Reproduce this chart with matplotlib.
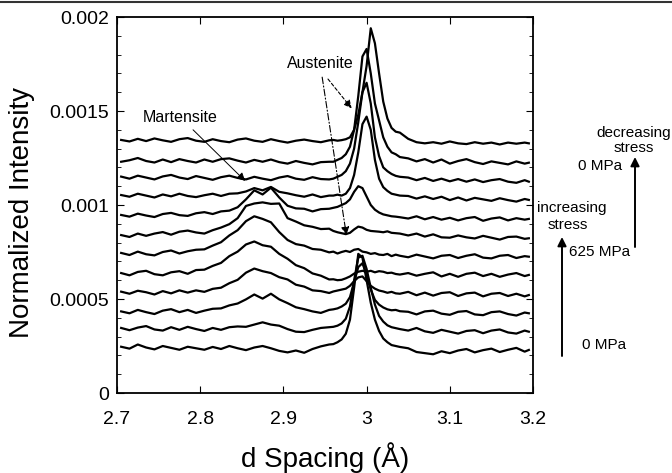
import matplotlib
matplotlib.use("Agg")
import matplotlib.pyplot as plt
import numpy as np
from matplotlib.lines import Line2D
from matplotlib.patches import FancyArrowPatch

plt.rcParams['font.family'] = ['Liberation Sans', 'DejaVu Sans']

# d spacing grid (Angstrom)
d_spacing = [2.705, 2.715, 2.725, 2.735, 2.745, 2.755, 2.765, 2.775, 2.785, 2.795,
             2.805, 2.815, 2.825, 2.835, 2.845, 2.855, 2.865, 2.875, 2.885, 2.895,
             2.905, 2.915, 2.925, 2.935, 2.945, 2.955,
             2.960, 2.965, 2.970, 2.975, 2.980, 2.985, 2.990, 2.995, 3.000, 3.005,
             3.010, 3.015, 3.020, 3.025, 3.030, 3.035, 3.040,
             3.050, 3.060, 3.070, 3.080, 3.090, 3.100, 3.110, 3.120, 3.130, 3.140,
             3.150, 3.160, 3.170, 3.180, 3.190, 3.195]

# Normalized intensity in units of 1e-4, bottom curve (s1) to top curve (s12)
s1 = [2.46, 2.36, 2.58, 2.42, 2.32, 2.50, 2.40, 2.30, 2.46, 2.38, 2.30, 2.45, 2.34, 2.50, 2.38, 2.28, 2.42, 2.50, 2.38, 2.24, 2.16, 2.26, 2.14, 2.34, 2.48, 2.58,
      2.60, 2.70, 2.85, 3.15, 3.90, 5.60, 7.40, 7.20, 6.00, 4.80, 3.90, 3.30, 2.90, 2.70, 2.55, 2.50, 2.45,
      2.38, 2.18, 2.12, 2.06, 2.22, 2.12, 2.26, 2.34, 2.16, 2.28, 2.36, 2.18, 2.30, 2.40, 2.20, 2.29]
s2 = [3.46, 3.34, 3.48, 3.56, 3.38, 3.32, 3.50, 3.36, 3.52, 3.40, 3.30, 3.46, 3.36, 3.50, 3.54, 3.52, 3.64, 3.76, 3.64, 3.58, 3.40, 3.26, 3.24, 3.36, 3.46, 3.50,
      3.52, 3.58, 3.70, 3.95, 4.60, 6.00, 7.20, 7.30, 6.60, 5.60, 4.70, 4.10, 3.80, 3.60, 3.50, 3.45, 3.40,
      3.32, 3.46, 3.28, 3.20, 3.36, 3.26, 3.16, 3.30, 3.34, 3.18, 3.32, 3.38, 3.22, 3.16, 3.32, 3.26]
s3 = [4.34, 4.24, 4.42, 4.30, 4.20, 4.38, 4.46, 4.30, 4.42, 4.26, 4.38, 4.48, 4.50, 4.66, 4.76, 4.98, 5.24, 5.02, 5.28, 4.98, 4.78, 4.56, 4.46, 4.34, 4.26, 4.42,
      4.45, 4.50, 4.60, 4.75, 5.10, 5.90, 6.70, 6.90, 6.30, 5.50, 4.95, 4.70, 4.55, 4.45, 4.40, 4.42, 4.35,
      4.32, 4.18, 4.34, 4.38, 4.22, 4.16, 4.32, 4.36, 4.18, 4.14, 4.30, 4.34, 4.20, 4.12, 4.28, 4.24]
s4 = [5.39, 5.28, 5.44, 5.36, 5.24, 5.42, 5.30, 5.46, 5.34, 5.46, 5.38, 5.54, 5.60, 5.84, 6.02, 6.40, 6.62, 6.48, 6.38, 6.16, 6.04, 5.76, 5.66, 5.46, 5.42, 5.32,
      5.40, 5.45, 5.50, 5.55, 5.70, 5.95, 6.15, 6.20, 5.95, 5.70, 5.55, 5.45, 5.40, 5.33, 5.38, 5.30, 5.28,
      5.38, 5.20, 5.34, 5.18, 5.32, 5.36, 5.16, 5.30, 5.34, 5.14, 5.28, 5.32, 5.16, 5.28, 5.14, 5.21]
s5 = [6.38, 6.26, 6.44, 6.50, 6.32, 6.26, 6.42, 6.48, 6.34, 6.54, 6.56, 6.76, 6.92, 7.28, 7.52, 7.90, 8.06, 7.86, 7.78, 7.40, 7.14, 6.80, 6.64, 6.36, 6.24, 6.04,
      6.05, 6.00, 6.02, 6.10, 6.20, 6.35, 6.45, 6.50, 6.45, 6.50, 6.42, 6.48, 6.45, 6.38, 6.40, 6.33, 6.30,
      6.38, 6.24, 6.34, 6.42, 6.20, 6.34, 6.18, 6.34, 6.40, 6.22, 6.34, 6.18, 6.30, 6.38, 6.22, 6.28]
s6 = [7.45, 7.34, 7.52, 7.38, 7.32, 7.50, 7.58, 7.42, 7.54, 7.62, 7.64, 7.84, 8.02, 8.38, 8.66, 9.14, 9.40, 9.26, 9.08, 8.56, 8.14, 7.92, 7.84, 7.66, 7.62, 7.48,
      7.52, 7.42, 7.50, 7.56, 7.50, 7.62, 7.66, 7.52, 7.48, 7.40, 7.44, 7.36, 7.34, 7.40, 7.28, 7.36, 7.30,
      7.22, 7.36, 7.26, 7.16, 7.30, 7.34, 7.18, 7.30, 7.38, 7.20, 7.16, 7.30, 7.34, 7.18, 7.28, 7.25]
s7 = [8.40, 8.30, 8.48, 8.36, 8.48, 8.56, 8.42, 8.58, 8.64, 8.54, 8.48, 8.66, 8.80, 8.98, 9.30, 9.95, 10.08, 10.14, 10.06, 10.08, 9.30, 9.12, 8.92, 8.84, 8.72, 8.74,
      8.62, 8.55, 8.50, 8.45, 8.52, 8.70, 8.85, 8.80, 8.68, 8.62, 8.60, 8.58, 8.55, 8.60, 8.52, 8.50, 8.48,
      8.38, 8.48, 8.32, 8.44, 8.28, 8.26, 8.38, 8.28, 8.22, 8.36, 8.26, 8.16, 8.30, 8.32, 8.20, 8.23]
s8 = [9.47, 9.38, 9.54, 9.44, 9.36, 9.52, 9.58, 9.46, 9.42, 9.56, 9.62, 9.52, 9.66, 9.70, 9.88, 10.30, 10.78, 10.56, 10.92, 10.40, 9.96, 9.82, 9.80, 9.66, 9.78, 9.80,
      9.85, 9.90, 10.00, 10.10, 10.30, 10.70, 11.00, 10.90, 10.45, 10.00, 9.75, 9.60, 9.50, 9.45, 9.40, 9.38, 9.35,
      9.28, 9.40, 9.24, 9.36, 9.22, 9.32, 9.18, 9.30, 9.36, 9.16, 9.28, 9.34, 9.18, 9.30, 9.22, 9.26]
s9 = [10.53, 10.44, 10.60, 10.50, 10.40, 10.56, 10.46, 10.60, 10.48, 10.42, 10.52, 10.60, 10.48, 10.60, 10.62, 10.72, 10.90, 10.78, 10.96, 10.70, 10.62, 10.52, 10.44, 10.56, 10.42, 10.50,
      10.50, 10.55, 10.50, 10.60, 10.90, 11.60, 12.80, 14.30, 14.70, 14.00, 12.40, 11.40, 10.95, 10.75, 10.60, 10.55, 10.50,
      10.48, 10.34, 10.46, 10.32, 10.44, 10.26, 10.40, 10.24, 10.38, 10.30, 10.22, 10.36, 10.26, 10.18, 10.32, 10.27]
s10 = [11.51, 11.40, 11.56, 11.46, 11.36, 11.52, 11.60, 11.46, 11.38, 11.54, 11.44, 11.34, 11.48, 11.56, 11.44, 11.36, 11.50, 11.40, 11.32, 11.46, 11.54, 11.40, 11.34, 11.48, 11.38, 11.36,
       11.40, 11.50, 11.60, 11.80, 12.20, 13.00, 14.40, 16.00, 16.50, 15.40, 13.60, 12.60, 12.00, 11.80, 11.65, 11.55, 11.50,
       11.46, 11.32, 11.44, 11.28, 11.40, 11.26, 11.38, 11.24, 11.36, 11.22, 11.32, 11.38, 11.24, 11.18, 11.32, 11.24]
s11 = [12.30, 12.38, 12.50, 12.34, 12.26, 12.42, 12.28, 12.44, 12.34, 12.26, 12.42, 12.30, 12.44, 12.48, 12.36, 12.26, 12.40, 12.30, 12.42, 12.28, 12.20, 12.34, 12.24, 12.16, 12.28, 12.30,
       12.30, 12.40, 12.50, 12.70, 13.10, 14.00, 15.80, 17.90, 18.30, 17.00, 15.40, 14.50, 13.60, 13.10, 12.80, 12.70, 12.55,
       12.48, 12.32, 12.44, 12.26, 12.42, 12.20, 12.34, 12.44, 12.28, 12.18, 12.32, 12.24, 12.16, 12.32, 12.20, 12.25]
s12 = [13.46, 13.38, 13.52, 13.40, 13.54, 13.44, 13.36, 13.50, 13.56, 13.42, 13.36, 13.50, 13.40, 13.34, 13.48, 13.54, 13.42, 13.36, 13.50, 13.40, 13.32, 13.42, 13.48, 13.40, 13.34, 13.44,
       13.46, 13.42, 13.45, 13.50, 13.60, 14.00, 14.80, 16.00, 17.40, 19.40, 18.60, 17.00, 15.50, 14.60, 14.10, 13.90, 13.85,
       13.52, 13.34, 13.28, 13.34, 13.26, 13.38, 13.28, 13.24, 13.34, 13.26, 13.32, 13.22, 13.32, 13.26, 13.32, 13.28]

series = [s1, s2, s3, s4, s5, s6, s7, s8, s9, s10, s11, s12]
unit = 1e-4

x_ticks = [2.7, 2.8, 2.9, 3.0, 3.1, 3.2]
x_ticklabels = ['2.7', '2.8', '2.9', '3', '3.1', '3.2']
y_ticks = [0, 0.0005, 0.001, 0.0015, 0.002]
y_ticklabels = ['0', '0.0005', '0.001', '0.0015', '0.002']

W, H = 672, 473
fig = plt.figure(figsize=(W / 100, H / 100), dpi=100)
ax = fig.add_axes([117 / W, 80 / H, 416 / W, 376 / H])

x = np.array(d_spacing)
for s in series:
    ax.plot(x, np.array(s) * unit, color='black', lw=1.6, solid_joinstyle='round')

ax.set_xlim(2.7, 3.2)
ax.set_ylim(0, 0.002)
ax.set_xticks(x_ticks)
ax.set_xticklabels(x_ticklabels)
ax.set_yticks(y_ticks)
ax.set_yticklabels(y_ticklabels)
ax.set_yticks(np.arange(0, 0.00201, 0.0001), minor=True)
ax.tick_params(which='both', direction='in', top=True, right=True, labelsize=14)
ax.tick_params(axis='x', which='major', length=5, pad=13)
ax.tick_params(axis='y', which='major', length=5, pad=6)
ax.tick_params(which='minor', length=3)
for sp in ax.spines.values():
    sp.set_linewidth(1.3)

ax.set_xlabel('d Spacing (Å)', fontsize=20, va='top')
ax.set_ylabel('Normalized Intensity', fontsize=20)
ax.xaxis.set_label_coords(0.5, -0.132)
ax.yaxis.set_label_coords(-0.197, 0.48)

# annotations inside
ax.text(2.945, 0.001755, 'Austenite', fontsize=11.5, ha='center', va='center')
ax.text(2.7757, 0.001468, 'Martensite', fontsize=11.5, ha='center', va='center')

# Austenite dashed arrows
ax.annotate('', xy=(2.9757, 0.00084), xytext=(2.9466, 0.00168),
            arrowprops=dict(arrowstyle='-|>', lw=0.8, color='black', ls=(0, (6, 2, 1, 2)),
                            mutation_scale=12, shrinkA=0, shrinkB=0))
ax.annotate('', xy=(2.982, 0.001514), xytext=(2.9536, 0.00167),
            arrowprops=dict(arrowstyle='-|>', lw=0.8, color='black', ls=(0, (3, 2)),
                            mutation_scale=12, shrinkA=0, shrinkB=0))
# Martensite arrow
ax.annotate('', xy=(2.854, 0.001128), xytext=(2.7914, 0.0014),
            arrowprops=dict(arrowstyle='-|>', lw=0.7, color='black',
                            mutation_scale=12, shrinkA=0, shrinkB=0))

# right-side annotations (figure pixel coordinates)
def fx(px):
    return px / W

def fy(py):
    return 1 - py / H

fs = 11
fig.text(fx(634), fy(133), 'decreasing', fontsize=fs, ha='center', va='center')
fig.text(fx(634), fy(148), 'stress', fontsize=fs, ha='center', va='center')
fig.text(fx(600), fy(166), '0 MPa', fontsize=fs, ha='center', va='center')
fig.text(fx(572), fy(208), 'increasing', fontsize=fs, ha='center', va='center')
fig.text(fx(568), fy(225), 'stress', fontsize=fs, ha='center', va='center')
fig.text(fx(600), fy(252), '625 MPa', fontsize=fs, ha='center', va='center')
fig.text(fx(604), fy(345), '0 MPa', fontsize=fs, ha='center', va='center')

fig.add_artist(FancyArrowPatch((fx(635), fy(247)), (fx(635), fy(157)),
               transform=fig.transFigure, arrowstyle='-|>', mutation_scale=13, lw=1.4, color='black',
               shrinkA=0, shrinkB=0))
fig.add_artist(FancyArrowPatch((fx(562), fy(356)), (fx(562), fy(237)),
               transform=fig.transFigure, arrowstyle='-|>', mutation_scale=13, lw=1.4, color='black',
               shrinkA=0, shrinkB=0))

# top page rule
fig.add_artist(Line2D([0, 1], [fy(2.5), fy(2.5)], transform=fig.transFigure, color='#333333', lw=1.5))

fig.savefig('out.png', dpi=100)
